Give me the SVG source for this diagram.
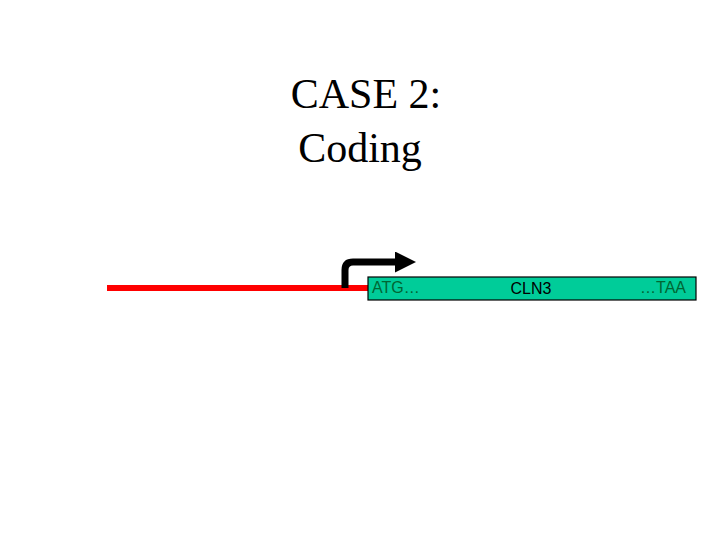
<svg xmlns="http://www.w3.org/2000/svg" width="720" height="540" viewBox="0 0 720 540">
<style>
.t{font-family:"Liberation Serif",serif;font-size:42px;fill:#000;text-anchor:middle}
.s{font-family:"Liberation Sans",sans-serif;font-size:16px}
</style>
<defs><marker id="ah" markerWidth="3" markerHeight="3" refX="1" refY="1.5" orient="auto"><path d="M0,0 L3,1.5 L0,3 z" fill="#000"/></marker></defs>
<rect width="720" height="540" fill="#fff"/>
<g id="title"><text class="t" x="366" y="108">CASE 2:</text><text class="t" x="360" y="162">Coding</text></g>
<g id="connectors">
<line x1="107" y1="288" x2="370" y2="288" stroke="#f00" stroke-width="6"/>
<path d="M345,288 V270 Q345,262 353,262 H402" fill="none" stroke="#000" stroke-width="7" marker-end="url(#ah)"/>
</g>
<g id="gene">
<rect x="368" y="277" width="328" height="23" fill="#00cc99" stroke="#000" stroke-width="1.2"/>
<text class="s" x="372" y="293" fill="#006633">ATG…</text>
<text class="s" x="531" y="294" fill="#000" text-anchor="middle">CLN3</text>
<text class="s" x="686" y="293" fill="#006633" text-anchor="end">…TAA</text>
</g>
</svg>
